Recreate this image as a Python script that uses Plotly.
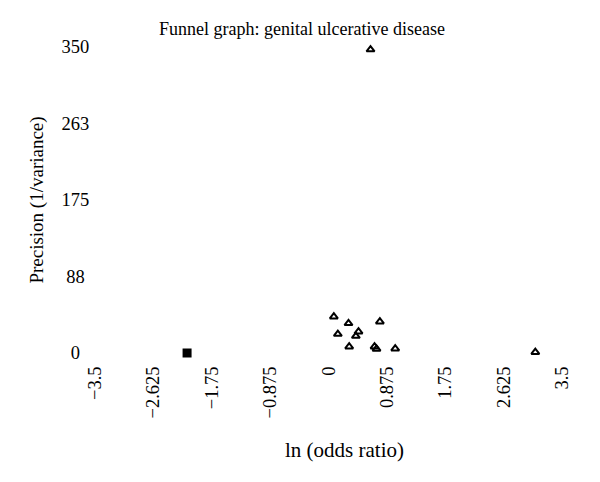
import plotly.graph_objects as go

# Study estimates (triangles)
study_ln_or = [0.08, 0.30, 0.77, 0.14, 0.45, 0.41, 0.31, 0.69, 0.72, 1.00, 0.63, 3.10]
study_precision = [41.5, 33.9, 35.8, 21.7, 24.4, 19.4, 7.2, 7.2, 4.6, 4.9, 347.0, 1.0]

# Filled square point
square_ln_or = [-2.12]
square_precision = [0.0]

x_tickvals = [-3.5, -2.625, -1.75, -0.875, 0, 0.875, 1.75, 2.625, 3.5]
x_ticktext = ["\u22123.5", "\u22122.625", "\u22121.75", "\u22120.875", "0", "0.875", "1.75", "2.625", "3.5"]
y_tickvals = [0, 87.5, 175, 262.5, 350]
y_ticktext = ["0\u2007", "88\u2008", "175", "263", "350"]

x_title = "ln (odds ratio)"
y_title = "Precision (1/variance)"
chart_title = "Funnel graph: genital ulcerative disease"

font_family = "Liberation Serif, Times New Roman, serif"

fig = go.Figure()
fig.add_trace(go.Scatter(
    x=study_ln_or, y=study_precision, mode="markers",
    marker=dict(symbol="triangle-up-open", size=7, color="black", line=dict(width=2, color="black")),
    cliponaxis=False, showlegend=False,
))
fig.add_trace(go.Scatter(
    x=square_ln_or, y=square_precision, mode="markers",
    marker=dict(symbol="square", size=9, color="black"),
    cliponaxis=False, showlegend=False,
))

fig.update_layout(
    width=600, height=482,
    paper_bgcolor="white", plot_bgcolor="white",
    margin=dict(l=87, r=46, t=39, b=137),
    font=dict(family=font_family, size=18.5, color="black"),
    title=dict(text=chart_title, x=294 / 600, xanchor="center",
               xref="container", y=1 - 21 / 482, yanchor="middle", yref="container",
               font=dict(size=18)),
    xaxis=dict(range=[-3.5, 3.5], tickvals=x_tickvals, ticktext=x_ticktext, tickangle=-90,
               showgrid=False, zeroline=False, showline=False, automargin=False,
               ticks="outside", ticklen=5, tickcolor="rgba(0,0,0,0)"),
    yaxis=dict(range=[0, 350], tickvals=y_tickvals, ticktext=y_ticktext,
               showgrid=False, zeroline=False, showline=False, automargin=False,
               ticks="outside", ticklen=1, tickcolor="rgba(0,0,0,0)",
               title=dict(text=y_title, standoff=12, font=dict(size=19))),
    annotations=[dict(text=x_title, xref="paper", yref="paper", x=(336 - 87) / 467, y=-0.317,
                      xanchor="center", yanchor="middle", showarrow=False, font=dict(size=21))],
)

fig.write_html("out.html")
